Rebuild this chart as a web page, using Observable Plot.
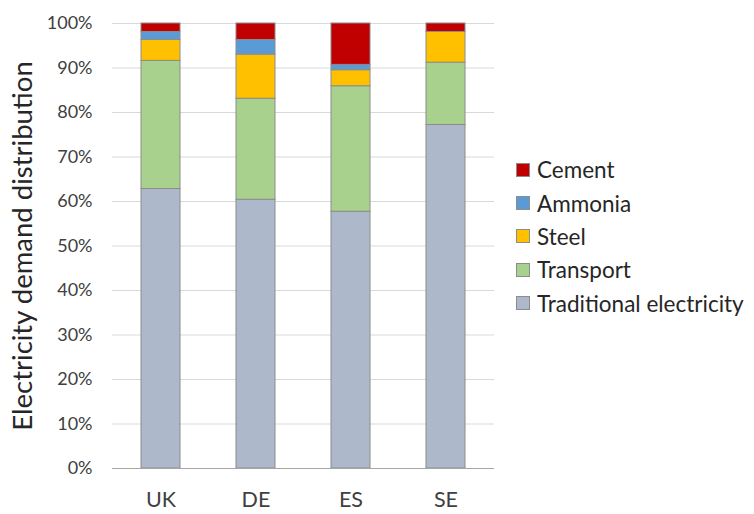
<!DOCTYPE html>
<html>
<head>
<meta charset="utf-8">
<script src="https://cdn.jsdelivr.net/npm/d3@7"></script>
<script src="https://cdn.jsdelivr.net/npm/@observablehq/plot@0.6"></script>
<style>
  html, body { margin: 0; padding: 0; background: #fff; }
  #wrap { position: relative; width: 754px; height: 514px; font-family: Lato, "Open Sans", sans-serif; }
  #legend { position: absolute; left: 516px; top: 153px; }
  .li { display: flex; align-items: center; height: 33.4px; font-size: 22.5px; color: #262626; white-space: nowrap; }
  .sw { width: 14px; height: 14px; border: 1px solid #8c8c8c; margin-right: 7px; box-sizing: border-box; }
  svg [aria-label="y-axis label"] text { font-size: 27.5px; fill: #262626; }
  svg [aria-label="y-axis label"] { font-size: 27.5px; }
</style>
</head>
<body>
<div id="wrap"></div>
<script>
const countries = ["UK", "DE", "ES", "SE"];
const series = ["Traditional electricity", "Transport", "Steel", "Ammonia", "Cement"];
const colors = ["#ADB9CA", "#A9D18E", "#FFC000", "#5B9BD5", "#C00000"];
// values in percent, per country, in series order
const traditional = [62.8, 60.4, 57.7, 77.2];
const transport   = [28.8, 22.7, 28.2, 14.0];
const steel       = [4.7, 9.9, 3.6, 6.9];
const ammonia     = [1.8, 3.3, 1.2, 0.0];
const cement      = [1.9, 3.7, 9.3, 1.9];
const yTicks = [0, 10, 20, 30, 40, 50, 60, 70, 80, 90, 100];

const seriesValues = [traditional, transport, steel, ammonia, cement];
const data = [];
countries.forEach((c, i) => {
  series.forEach((s, j) => data.push({country: c, series: s, value: seriesValues[j][i]}));
});

const chart = Plot.plot({
  width: 754,
  height: 514,
  marginLeft: 112,
  marginRight: 260,
  marginTop: 23,
  marginBottom: 46,
  style: {fontFamily: "Lato, 'Open Sans', sans-serif", fontSize: "18px", color: "#404040", background: "#fff"},
  x: {domain: countries, paddingInner: 0.59, paddingOuter: 0.295, label: null},
  y: {domain: [0, 100], label: null},
  color: {domain: series, range: colors},
  marks: [
    Plot.gridY(yTicks.slice(1), {stroke: "#d9d9d9", strokeOpacity: 1, strokeWidth: 1.2}),
    Plot.barY(data, {x: "country", y: "value", fill: "series", stroke: "#8c8c8c", strokeWidth: 1, order: series}),
    Plot.ruleY([0], {stroke: "#a6a6a6", strokeWidth: 1.2}),
    Plot.axisY(yTicks, {tickSize: 0, tickPadding: 20, tickFormat: d => d + "%", fontSize: 18,
      label: "Electricity demand distribution", labelAnchor: "center", labelArrow: "none", labelOffset: 100}),
    Plot.axisX({tickSize: 0, tickPadding: 23, fontSize: 21.5})
  ]
});

const wrap = document.getElementById("wrap");
wrap.appendChild(chart);
const legend = document.createElement("div");
legend.id = "legend";
for (let j = series.length - 1; j >= 0; j--) {
  const li = document.createElement("div");
  li.className = "li";
  const sw = document.createElement("div");
  sw.className = "sw";
  sw.style.background = colors[j];
  li.appendChild(sw);
  li.appendChild(document.createTextNode(series[j]));
  legend.appendChild(li);
}
wrap.appendChild(legend);
</script>
</body>
</html>
